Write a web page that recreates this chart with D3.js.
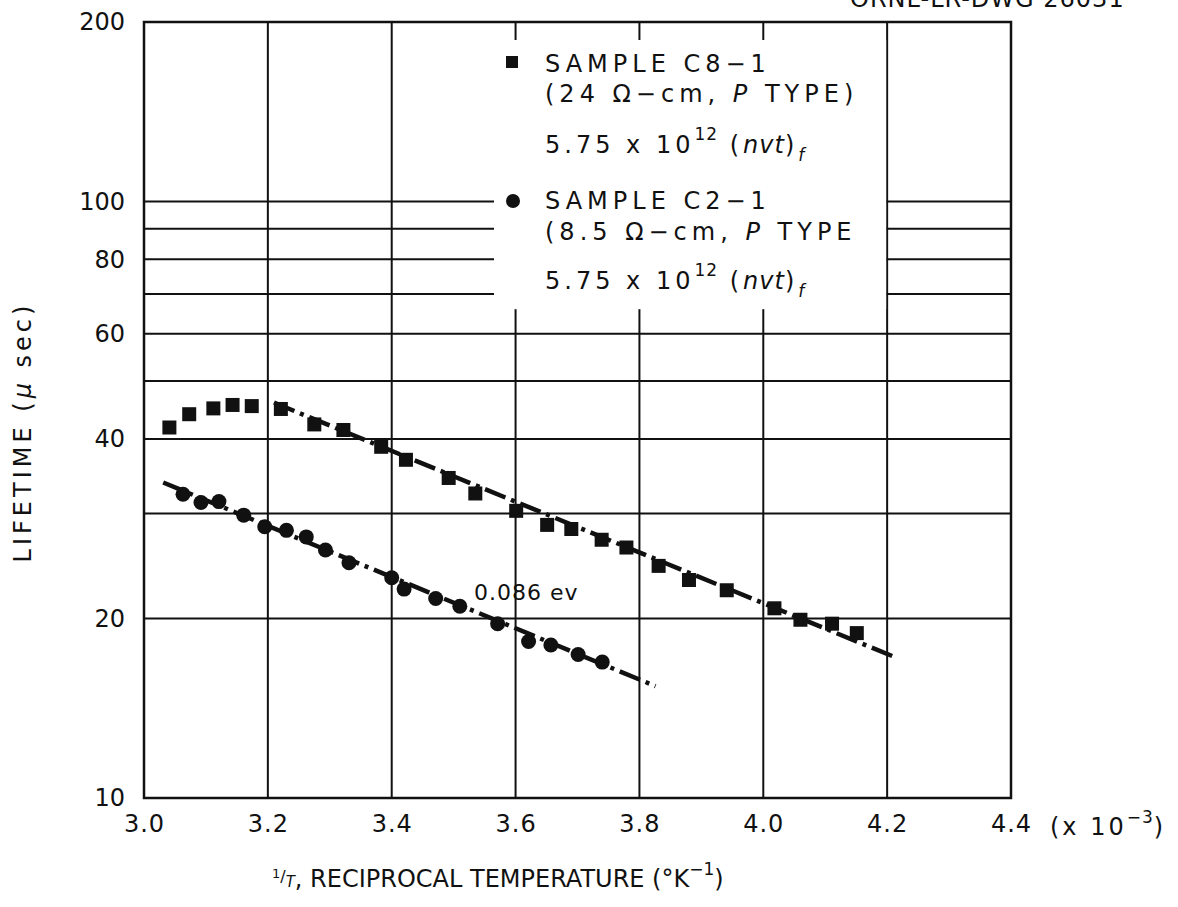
<!DOCTYPE html>
<html>
<head>
<meta charset="utf-8">
<script src="https://cdn.jsdelivr.net/npm/d3@7"></script>
<style>
  body { margin: 0; background: #fff; }
  text { font-family: "DejaVu Sans", sans-serif; fill: #111; }
</style>
</head>
<body>
<svg id="chart" width="1178" height="907"></svg>
<script>
// Reciprocal temperature (x 10^-3 per deg K) tick values
const xTicks = [3.0, 3.2, 3.4, 3.6, 3.8, 4.0, 4.2, 4.4];
// Lifetime axis: labelled values and ruled grid values (microseconds)
const yTickLabels = [10, 20, 40, 60, 80, 100, 200];
const yGridValues = [20, 30, 40, 50, 60, 70, 80, 90, 100];

// Sample C8-1 (24 ohm-cm, P type)
const c8X = [3.041, 3.073, 3.112, 3.143, 3.174, 3.221, 3.275, 3.322, 3.383, 3.423, 3.492, 3.535,
             3.601, 3.651, 3.690, 3.739, 3.779, 3.831, 3.880, 3.941, 4.018, 4.060, 4.111, 4.151];
const c8Y = [41.8, 44.0, 45.0, 45.6, 45.4, 44.9, 42.3, 41.4, 38.8, 36.9, 34.4, 32.4,
             30.3, 28.7, 28.25, 27.1, 26.3, 24.5, 23.2, 22.3, 20.8, 19.9, 19.6, 18.9];

// Sample C2-1 (8.5 ohm-cm, P type)
const c2X = [3.063, 3.092, 3.121, 3.161, 3.195, 3.230, 3.262, 3.293, 3.331, 3.400, 3.420, 3.471,
             3.510, 3.571, 3.621, 3.657, 3.701, 3.740];
const c2Y = [32.3, 31.3, 31.4, 29.8, 28.5, 28.1, 27.4, 26.05, 24.8, 23.4, 22.4, 21.6,
             20.96, 19.6, 18.3, 18.05, 17.4, 16.9];

// Straight-line fits (end points) drawn through each sample
const c8FitX = [3.21, 4.217];
const c8FitY = [46.0, 17.15];
const c2FitX = [3.031, 3.826];
const c2FitY = [33.8, 15.4];

const svg = d3.select("#chart");
const pL = 144, pR = 1011, pT = 22, pB = 798;

const x = d3.scaleLinear().domain([3.0, 4.4]).range([pL, pR]);
const y = d3.scaleLog().domain([10, 200]).range([pB, pT]);

const ink = "#111";
const fs = 24;

// Grid
const grid = svg.append("g").attr("stroke", ink).attr("stroke-width", 2);
grid.selectAll("line.v").data(xTicks.slice(1, -1)).join("line")
  .attr("class", "v")
  .attr("x1", d => x(d)).attr("x2", d => x(d))
  .attr("y1", pT).attr("y2", pB);
grid.selectAll("line.h").data(yGridValues).join("line")
  .attr("class", "h")
  .attr("x1", pL).attr("x2", pR)
  .attr("y1", d => y(d)).attr("y2", d => y(d));

// Frame
svg.append("rect")
  .attr("x", pL).attr("y", pT)
  .attr("width", pR - pL).attr("height", pB - pT)
  .attr("fill", "none").attr("stroke", ink).attr("stroke-width", 2.5);

// Legend panel blanks the grid behind it
svg.append("rect")
  .attr("x", 494).attr("y", 40)
  .attr("width", x(4.2) - 1 - 494).attr("height", y(66) - 40)
  .attr("fill", "#fff");

// Axes
const yAxis = d3.axisLeft(y).tickValues(yTickLabels).tickFormat(d3.format("d"))
  .tickSize(0).tickPadding(19);
const gy = svg.append("g").attr("transform", `translate(${pL},0)`).call(yAxis);
gy.select(".domain").remove();
gy.selectAll("text").attr("font-size", fs).attr("font-family", "DejaVu Sans").attr("fill", ink);

const xAxis = d3.axisBottom(x).tickValues(xTicks).tickFormat(d3.format(".1f"))
  .tickSize(0).tickPadding(17);
const gx = svg.append("g").attr("transform", `translate(0,${pB})`).call(xAxis);
gx.select(".domain").remove();
gx.selectAll("text").attr("font-size", fs).attr("font-family", "DejaVu Sans").attr("fill", ink)
  .attr("letter-spacing", 1);

// Multiplier after the last x tick
const mult = svg.append("text").attr("x", x(4.4) + 39).attr("y", pB + 37)
  .attr("font-size", fs).attr("letter-spacing", 3);
mult.append("tspan").text("(x 10");
mult.append("tspan").attr("dy", -12).attr("font-size", 17).attr("letter-spacing", 1).text("−3");
mult.append("tspan").attr("dy", 12).text(")");

// Fit lines
const fitLine = d3.line().x(d => x(d[0])).y(d => y(d[1]));
[[c8FitX, c8FitY], [c2FitX, c2FitY]].forEach(([fx, fy]) => {
  svg.append("path").datum(d3.zip(fx, fy)).attr("d", fitLine)
    .attr("stroke", ink).attr("stroke-width", 4.5).attr("fill", "none")
    .attr("stroke-dasharray", "22,6,4,6");
});

// Markers
const sq = 14;
svg.append("g").selectAll("rect").data(d3.zip(c8X, c8Y)).join("rect")
  .attr("x", d => x(d[0]) - sq / 2).attr("y", d => y(d[1]) - sq / 2)
  .attr("width", sq).attr("height", sq).attr("fill", ink);
svg.append("g").selectAll("circle").data(d3.zip(c2X, c2Y)).join("circle")
  .attr("cx", d => x(d[0])).attr("cy", d => y(d[1])).attr("r", 7.5).attr("fill", ink);

// Activation energy label
svg.append("text").attr("x", 474).attr("y", y(21.5)).attr("font-size", 22)
  .attr("letter-spacing", 1).text("0.086 ev");

// Legend
const lx = 545, ls = 4;
function fluence(ty) {
  const t = svg.append("text").attr("x", lx).attr("y", ty).attr("font-size", fs).attr("letter-spacing", ls);
  t.append("tspan").text("5.75 x 10");
  t.append("tspan").attr("dy", -13).attr("font-size", 17).attr("letter-spacing", 1).text("12");
  t.append("tspan").attr("dy", 13).text(" (");
  t.append("tspan").attr("font-style", "italic").attr("letter-spacing", 1).text("nvt");
  t.append("tspan").text(")");
  t.append("tspan").attr("dy", 8).attr("font-size", 17).attr("font-style", "italic").text("f");
}
function resist(ty, s, close) {
  const t = svg.append("text").attr("x", lx).attr("y", ty).attr("font-size", fs).attr("letter-spacing", 5);
  t.append("tspan").text(s + " Ω−cm, ");
  t.append("tspan").attr("font-style", "italic").text("P");
  t.append("tspan").text(" TYPE" + close);
}
svg.append("rect").attr("x", 506).attr("y", 56).attr("width", 12).attr("height", 12).attr("fill", ink);
svg.append("text").attr("x", lx).attr("y", 72).attr("font-size", fs).attr("letter-spacing", 5).text("SAMPLE C8−1");
resist(102, "(24", ")");
fluence(153);
svg.append("circle").attr("cx", 513).attr("cy", 201).attr("r", 7).attr("fill", ink);
svg.append("text").attr("x", lx).attr("y", 209).attr("font-size", fs).attr("letter-spacing", 5).text("SAMPLE C2−1");
resist(240, "(8.5", "");
fluence(289);

// Axis titles
const yt = svg.append("text").attr("transform", "translate(31,432) rotate(-90)")
  .attr("text-anchor", "middle").attr("font-size", fs).attr("letter-spacing", 4);
yt.append("tspan").text("LIFETIME (");
yt.append("tspan").attr("font-style", "italic").text("μ");
yt.append("tspan").text(" sec)");

const xt = svg.append("text").attr("x", 272).attr("y", 887).attr("font-size", fs).attr("letter-spacing", 0);
xt.append("tspan").attr("font-size", 13).attr("dy", -9).text("1");
xt.append("tspan").attr("font-size", 16).attr("dy", 4).text("/");
xt.append("tspan").attr("font-size", 15).attr("font-style", "italic").attr("dy", 5).text("T");
xt.append("tspan").attr("dy", 0).text(", RECIPROCAL TEMPERATURE (°K");
xt.append("tspan").attr("font-size", 17).attr("dy", -12).text("−1");
xt.append("tspan").attr("dy", 12).text(")");

// Drawing number along the top edge
svg.append("text").attr("x", 850).attr("y", 7).attr("font-size", fs).attr("letter-spacing", 1)
  .text("ORNL-LR-DWG 26031");
</script>
</body>
</html>
